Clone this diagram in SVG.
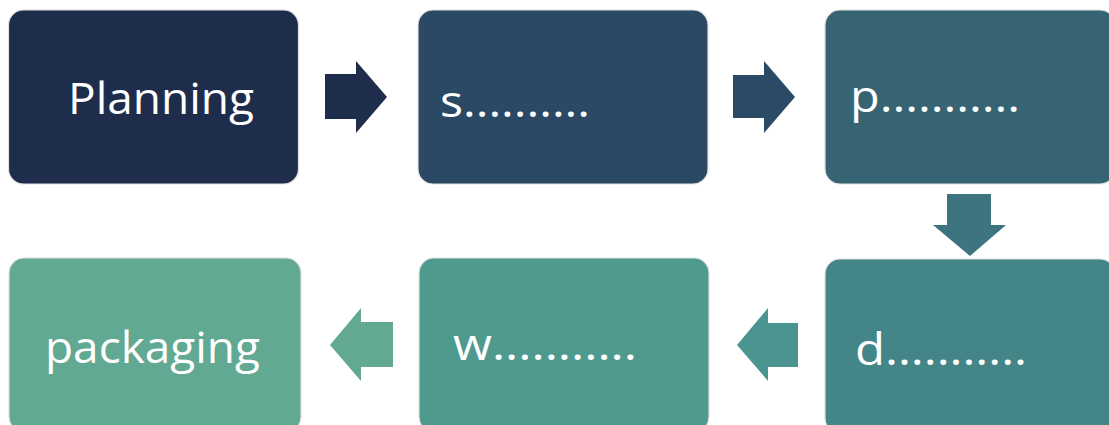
<svg xmlns="http://www.w3.org/2000/svg" width="1109" height="425" viewBox="0 0 1109 425">
<style>
.box{stroke:#e0e0e0;stroke-width:1.2}
.lbl{font-family:"Open Sans","Liberation Sans",sans-serif;font-size:44px;fill:#ffffff}
</style>
<rect width="1109" height="425" fill="#ffffff"/>
<g id="connectors">
<polygon points="325,74 356,74 356,61 387,97 356,133 356,119 325,119" fill="#1f2d4d"/>
<polygon points="733,75 764,75 764,61 795,97 764,133 764,118 733,118" fill="#2b4a65"/>
<polygon points="947,194 991,194 991,225 1006,225 970,256 933,225 947,225" fill="#3d7480"/>
<polygon points="798,323 768,323 768,308 737,345 768,381 768,367 798,367" fill="#4b9590"/>
<polygon points="393,322 361,322 361,308 330,345 361,381 361,367 393,367" fill="#62a892"/>
</g>
<g id="node-planning">
<rect class="box" x="8.5" y="10" width="290" height="174" rx="15" fill="#1f2d4d"/>
<text class="lbl" x="68" y="114" textLength="186" lengthAdjust="spacingAndGlyphs">Planning</text>
</g>
<g id="node-s">
<rect class="box" x="418" y="10" width="290" height="174" rx="15" fill="#2b4864"/>
<text class="lbl" x="440" y="117" textLength="150" lengthAdjust="spacingAndGlyphs">s..........</text>
</g>
<g id="node-p">
<rect class="box" x="825" y="10" width="290" height="174" rx="15" fill="#366473"/>
<text class="lbl" x="850" y="112" textLength="170" lengthAdjust="spacingAndGlyphs">p...........</text>
</g>
<g id="node-d">
<rect class="box" x="825" y="259" width="290" height="174" rx="15" fill="#448588"/>
<text class="lbl" x="855" y="365" textLength="172" lengthAdjust="spacingAndGlyphs">d...........</text>
</g>
<g id="node-w">
<rect class="box" x="419" y="258" width="290" height="174" rx="15" fill="#4f9a8f"/>
<text class="lbl" x="453" y="360" textLength="184" lengthAdjust="spacingAndGlyphs">w...........</text>
</g>
<g id="node-packaging">
<rect class="box" x="9" y="258" width="292" height="174" rx="15" fill="#62a993"/>
<text class="lbl" x="45" y="363" textLength="215" lengthAdjust="spacingAndGlyphs">packaging</text>
</g>
</svg>
